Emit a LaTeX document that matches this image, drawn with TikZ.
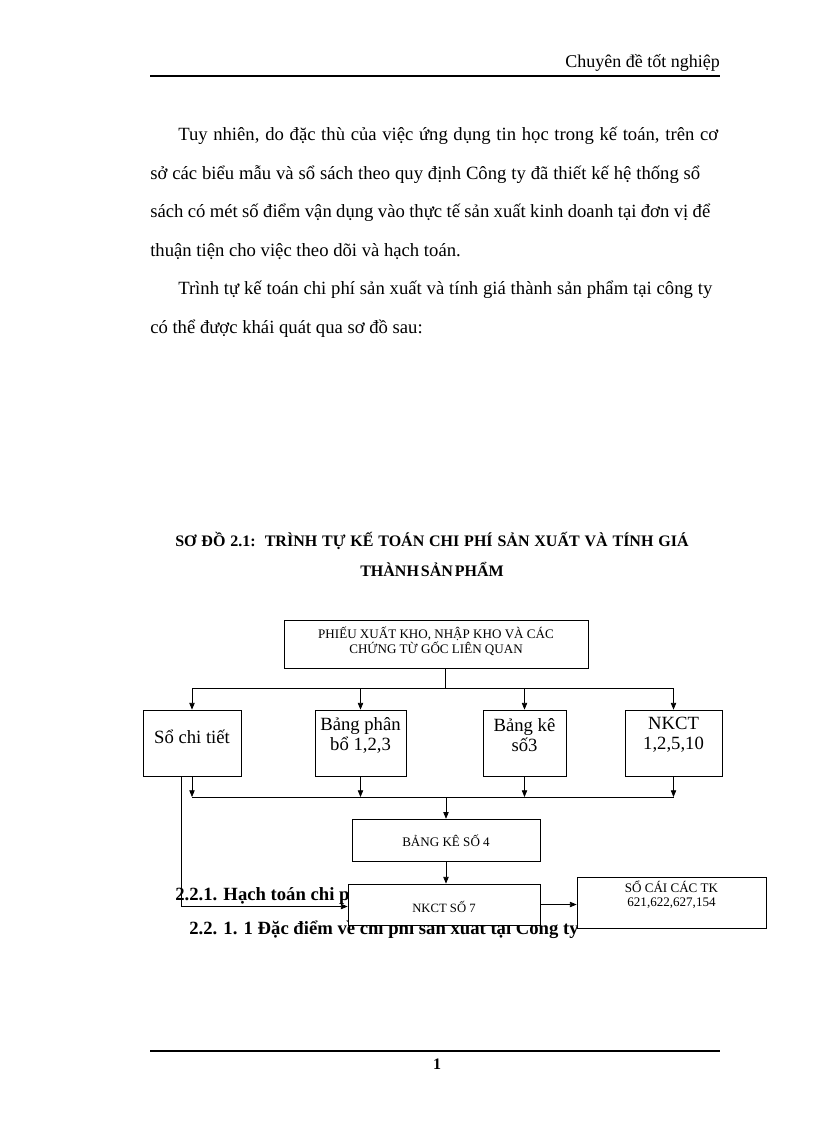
\documentclass[tikz,border=0pt]{standalone}
\usepackage{fontspec}
\setmainfont{Liberation Serif}
\usetikzlibrary{arrows.meta}
\newcommand\fbody{\fontsize{14pt}{16pt}\selectfont}
\begin{document}
\begin{tikzpicture}[x=0.75pt,y=-0.75pt,
  box/.style={draw, fill=white, line width=0.6pt, inner sep=0pt},
  lbl/.style={inner sep=0pt, align=center},
  ln/.style={line width=0.5pt},
  arr/.style={line width=0.5pt, -{Triangle[length=5pt,width=4pt]}},
  txt/.style={inner sep=0pt, anchor=base west}]
\useasboundingbox[fill=white] (0,0) rectangle (816,1123);

% header
\node[inner sep=0pt, anchor=base east] (hdr) at (720,68) {\fontsize{13.5pt}{15pt}\selectfont Chuyên đề tốt nghiệp};
\coordinate (hl) at (150,76);
\coordinate (hr) at (720,76);
\draw[line width=2pt] (hl) -- (hr);

% paragraph
\node[txt] (p1) at (178,141) {\fbody\makebox[405pt][s]{Tuy nhiên, do đặc thù của việc ứng dụng tin học trong kế toán, trên cơ}};
\node[txt] (p2) at (150,179.5) {\fbody\makebox[412.5pt][s]{sở các biểu mẫu và sổ sách theo quy định Công ty đã thiết kế hệ thống sổ}};
\node[txt] (p3) at (150,218) {\fbody\makebox[420pt][s]{sách có mét số điểm vận dụng vào thực tế sản xuất kinh doanh tại đơn vị để}};
\node[txt] (p4) at (150,256) {\fbody thuận tiện cho việc theo dõi và hạch toán.};
\node[txt] (p5) at (178,294.5) {\fbody\makebox[400.5pt][s]{Trình tự kế toán chi phí sản xuất và tính giá thành sản phẩm tại công ty}};
\node[txt] (p6) at (150,333) {\fbody có thể được khái quát qua sơ đồ sau:};

% title
\node[txt] (t1) at (175,546) {\fontsize{12pt}{13pt}\selectfont\bfseries\spaceskip=0.12em plus 1em minus 0.1em\makebox[385pt][s]{SƠ ĐỒ 2.1: TRÌNH TỰ KẾ TOÁN CHI PHÍ SẢN XUẤT VÀ TÍNH GIÁ}};
\node[inner sep=0pt, anchor=base] (t2) at (432,576) {\fontsize{12pt}{13pt}\selectfont\bfseries\spaceskip=0.12em THÀNH SẢN PHẨM};

% headings partly hidden by boxes
\node[txt] (h1) at (175,900) {\fbody\bfseries 2.2.1. Hạch toán chi phí sản xuất};
\node[txt] (h2) at (189,934) {\fbody\bfseries 2.2. 1. 1 Đặc điểm về chi phí sản xuất tại Công ty};

% boxes
\node[box, minimum width=228pt, minimum height=36pt] (top) at (436,644) {};
\node[lbl, font=\fontsize{9.8pt}{7.8pt}\selectfont] (topt) at ([yshift=2pt]top.center) {PHIẾU XUẤT KHO, NHẬP KHO VÀ CÁC\\ CHỨNG TỪ GỐC LIÊN QUAN};

\node[box, minimum width=73.5pt, minimum height=49.5pt] (sct) at (192,743) {};
\node[lbl, font=\fbody] (sctt) at ([yshift=5pt]sct.center) {Sổ chi tiết};

\node[box, minimum width=68.25pt, minimum height=49.5pt] (bpb) at (360.5,743) {};
\node[lbl, font=\fontsize{14pt}{15pt}\selectfont] (bpbt) at ([yshift=6pt]bpb.center) {Bảng phân\\ bổ 1,2,3};

\node[box, minimum width=62.25pt, minimum height=49.5pt] (bk3) at (524.5,743) {};
\node[lbl, font=\fontsize{14pt}{15pt}\selectfont] (bk3t) at ([yshift=6pt]bk3.center) {Bảng kê\\ số3};

\node[box, minimum width=72.75pt, minimum height=49.5pt] (nkct) at (673.5,743) {};
\node[lbl, font=\fontsize{14pt}{15pt}\selectfont] (nkctt) at ([yshift=6pt]nkct.center) {NKCT\\ 1,2,5,10};

\node[box, minimum width=141pt, minimum height=32pt] (bk4) at (446,840.5) {};
\node[lbl, font=\fontsize{9.8pt}{11pt}\selectfont] (bk4t) at (bk4.center) {BẢNG KÊ SỐ 4};

\node[box, minimum width=144pt, minimum height=30.75pt] (nk7) at (444,904.5) {};
\node[lbl, font=\fontsize{9.5pt}{10pt}\selectfont] (nk7t) at ([yshift=-1.5pt]nk7.center) {NKCT SỐ 7};

\node[box, minimum width=141.75pt, minimum height=38.25pt] (sc) at (671.5,902.5) {};
\node[lbl, font=\fontsize{9.8pt}{10.5pt}\selectfont] (sct2) at ([yshift=6pt]sc.center) {SỔ CÁI CÁC TK\\ 621,622,627,154};

% footer
\coordinate (fl) at (150,1051);
\coordinate (fr) at (720,1051);
\draw[line width=1.2pt] (fl) -- (fr);
\node[inner sep=0pt, anchor=base] (pg) at (437,1069) {\fontsize{12pt}{14pt}\selectfont\bfseries 1};

% connectors
\coordinate (j1) at (445,688);
\draw[ln] (top.south -| j1) -- (j1);
\draw[ln] (sct.north |- j1) -- (nkct.north |- j1);
\draw[arr] (sct.north |- j1) -- (sct.north);
\draw[arr] (bpb.north |- j1) -- (bpb.north);
\draw[arr] (bk3.north |- j1) -- (bk3.north);
\draw[arr] (nkct.north |- j1) -- (nkct.north);

\coordinate (j2) at (446,797);
\draw[arr] (sct.south) -- (sct.south |- j2);
\draw[arr] (bpb.south) -- (bpb.south |- j2);
\draw[arr] (bk3.south) -- (bk3.south |- j2);
\draw[arr] (nkct.south) -- (nkct.south |- j2);
\draw[ln] (sct.south |- j2) -- (nkct.south |- j2);
\draw[arr] (j2) -- (bk4.north);
\draw[arr] (bk4.south) -- (bk4.south |- nk7.north);
\draw[arr] ([xshift=-8.25pt]sct.south) |- ([yshift=-1.5pt]nk7.west);
\draw[arr] (nk7.east) -- (nk7.east -| sc.west);
\end{tikzpicture}
\end{document}
